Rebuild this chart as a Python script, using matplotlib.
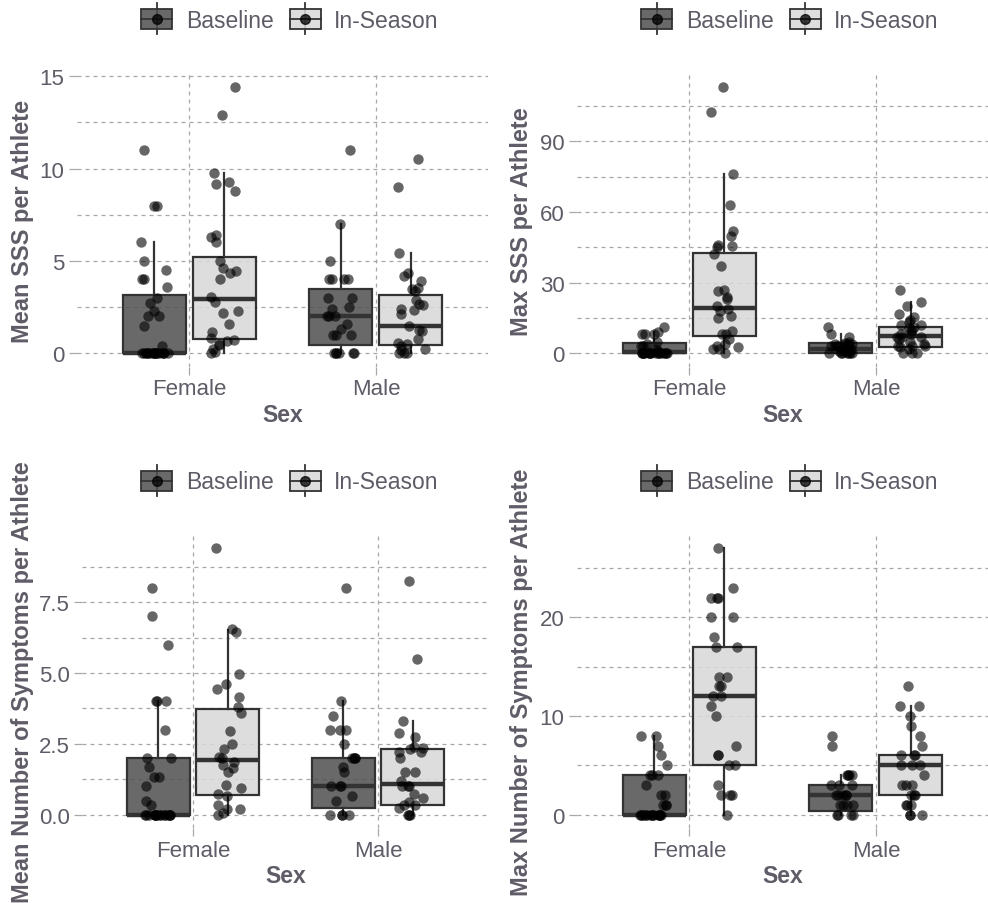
import numpy as np
import matplotlib
matplotlib.use("Agg")
import matplotlib.pyplot as plt
from matplotlib.patches import Patch, Rectangle
from matplotlib.lines import Line2D
from matplotlib.legend_handler import HandlerBase

plt.rcParams['font.family'] = ['Liberation Sans', 'DejaVu Sans']

# ---------------- data ----------------
sexes = ["Female", "Male"]
timepoints = ["Baseline", "In-Season"]

# Panel A: Mean SSS per athlete
mean_sss_f_base = [11, 8, 8, 6, 5, 4.5, 4, 4, 3.6, 3, 2.7, 2.3, 2, 2, 1.5, 0.4] + [0] * 17
mean_sss_f_in = [14.4, 12.9, 9.75, 9.3, 9.15, 8.8, 6.4, 6.3, 6.0, 5.0, 4.6, 4.45, 4.35, 4.0,
                 3.05, 2.8, 2.3, 2.2, 1.6, 1.15, 0.85, 0.7, 0.65, 0.5, 0.45, 0.25, 0.05, 0]
mean_sss_m_base = [11, 7, 5, 4, 4, 4, 4, 3, 3, 2.5, 2.4, 2, 2, 2, 1.6, 1.3, 1, 1, 1, 0, 0, 0, 0, 0, 0]
mean_sss_m_in = [10.5, 9, 5.45, 4.35, 4.2, 3.9, 3.55, 3.5, 3.35, 2.9, 2.65, 2.6, 2.4, 2.35, 2.15,
                 1.5, 1.25, 1.2, 0.8, 0.55, 0.5, 0.4, 0.25, 0.2, 0, 0, 0]
# box stats per group: [F-Base, F-In, M-Base, M-In]
mean_sss_q1 = [0, 0.8, 0.47, 0.47]
mean_sss_med = [0, 2.95, 2.0, 1.5]
mean_sss_q3 = [3.15, 5.2, 3.48, 3.17]
mean_sss_wlo = [0, 0, 0, 0]
mean_sss_whi = [6, 9.75, 7, 5.45]

# Panel B: Max SSS per athlete
max_sss_f_base = [11, 9, 8, 8, 8, 5, 4, 3, 3, 2, 1] + [0] * 17
max_sss_f_in = [113, 102.5, 76, 63, 52, 50, 46, 45.5, 45, 42, 37, 27, 26.5, 24, 23, 20, 19, 18,
                16, 15, 9.5, 8, 8, 6, 4, 3, 2.5, 2, 2, 0]
max_sss_m_base = [11, 8, 7, 5, 4.5, 4, 4, 4, 4, 3, 3, 3, 3, 2, 2, 2, 2, 1, 1, 1, 0, 0, 0, 0, 0, 0, 0]
max_sss_m_in = [27, 22, 20.3, 16.7, 15.3, 14, 13.2, 12.2, 12, 11, 10.6, 10, 9.6, 8.2, 8, 7.1, 7,
                6.8, 6, 5, 4, 3.3, 3, 3, 2.5, 1.8, 0, 0, 0]
max_sss_q1 = [0, 7.5, 0.2, 2.7]
max_sss_med = [0.5, 19.3, 2.0, 7.2]
max_sss_q3 = [4.25, 42.8, 4.25, 11.3]
max_sss_wlo = [0, 0, 0, 0]
max_sss_whi = [9, 76, 8, 22]

# Panel C: Mean number of symptoms per athlete
mean_sym_f_base = [8, 7, 6, 4, 4, 4, 3, 2, 2, 1.67, 1.33, 1.33, 1, 0.5, 0.33] + [0] * 16
mean_sym_f_in = [9.4, 6.55, 6.45, 4.95, 4.6, 4.45, 4.15, 3.8, 3.6, 2.95, 2.5, 2.33, 2.05, 2.0,
                 1.85, 1.75, 1.65, 1.5, 1.05, 0.95, 0.72, 0.65, 0.35, 0.2, 0.2, 0.05, 0]
mean_sym_m_base = [8, 4, 3.5, 3, 3, 3, 2.5, 2, 2, 2, 2, 1.67, 1.5, 1, 1, 1, 0.67, 0.5, 0, 0, 0, 0]
mean_sym_m_in = [8.25, 5.5, 3.3, 2.9, 2.75, 2.4, 2.35, 2.33, 2.2, 2.2, 2.0, 1.5, 1.5, 1.2, 1.0,
                 1.0, 1.0, 0.72, 0.58, 0.45, 0.35, 0.33, 0.25, 0, 0, 0]
mean_sym_q1 = [0, 0.68, 0.22, 0.34]
mean_sym_med = [0, 1.94, 1.0, 1.08]
mean_sym_q3 = [2.0, 3.73, 2.0, 2.32]
mean_sym_wlo = [0, 0, 0, 0]
mean_sym_whi = [4, 6.5, 4, 3.3]

# Panel D: Max number of symptoms per athlete
max_sym_f_base = [8, 8, 7, 6, 5, 4, 4, 4, 3, 2, 2, 1, 1, 1] + [0] * 15
max_sym_f_in = [27, 23, 22, 22, 22, 20, 20, 18, 17, 17, 14, 14, 13, 13, 12, 12, 11, 10, 7, 6, 6,
                5, 5, 3, 2, 2, 2, 0]
max_sym_m_base = [8, 7, 4, 4, 4, 4, 3, 3, 3, 2, 2, 2, 2, 2, 1, 1, 1, 1, 0, 0, 0, 0]
max_sym_m_in = [13, 11, 11, 10, 9, 8, 7, 6, 6, 6, 5, 5, 5, 4, 3, 3, 3, 2, 2, 2, 1, 1, 1, 0, 0, 0]
max_sym_q1 = [0, 5, 0.4, 2]
max_sym_med = [0, 12, 2, 5]
max_sym_q3 = [4, 17, 3, 6]
max_sym_wlo = [0, 0, 0, 0]
max_sym_whi = [8, 27, 4, 11]

ylabels = ["Mean SSS per Athlete", "Max SSS per Athlete",
           "Mean Number of Symptoms per Athlete", "Max Number of Symptoms per Athlete"]

# ---------------- style ----------------
TEXT = '#5f5b67'
GRID = '#a8a8a8'
EDGE = '#333333'
FILLS = ['#4f4f4f', '#d8d8d8']
BOX_ALPHA = 0.85

fig = plt.figure(figsize=(9.88, 9.04), dpi=100)
W, H = 988, 904


def ax_at(l, t, r, b):
    return fig.add_axes([l / W, 1 - b / H, (r - l) / W, (b - t) / H])


rng = np.random.default_rng(11)


class BoxKeyHandler(HandlerBase):
    def create_artists(self, legend, orig_handle, xdescent, ydescent, width, height,
                       fontsize, trans):
        x0, y0 = -xdescent, -ydescent
        cx, cy = x0 + width / 2, y0 + height / 2
        ext = height * 0.28
        vline = Line2D([cx, cx], [y0 - ext, y0 + height + ext], color=EDGE, lw=1.3,
                       transform=trans)
        rect = Rectangle((x0, y0), width, height, facecolor=orig_handle.get_facecolor(),
                         edgecolor=EDGE, lw=1.3, transform=trans)
        hline = Line2D([x0, x0 + width], [cy, cy], color=EDGE, lw=1.3, transform=trans)
        dot = Line2D([cx], [cy], marker='o', ms=7, color='black', alpha=0.75,
                     linestyle='None', transform=trans)
        return [vline, rect, hline, dot]


def draw_panel(ax, groups, q1, med, q3, wlo, whi, ylabel, major, minor, ticklabels,
               label_x):
    pos = [1 - 0.1875, 1 + 0.1875, 2 - 0.1875, 2 + 0.1875]
    stats = []
    for i in range(4):
        stats.append(dict(med=med[i], q1=q1[i], q3=q3[i], whislo=wlo[i], whishi=whi[i],
                          fliers=[]))
    bp = ax.bxp(stats, positions=pos, widths=0.3375, patch_artist=True, showfliers=False,
                showcaps=False,
                boxprops=dict(edgecolor=EDGE, linewidth=1.6),
                whiskerprops=dict(color=EDGE, linewidth=1.6),
                medianprops=dict(color=EDGE, linewidth=3.2, solid_capstyle='butt'),
                manage_ticks=False, zorder=2)
    for i, p in enumerate(bp['boxes']):
        fc = matplotlib.colors.to_rgba(FILLS[i % 2], BOX_ALPHA)
        p.set_facecolor(fc)
    for i, vals in enumerate(groups):
        vals = np.asarray(vals, dtype=float)
        xs = pos[i] + rng.uniform(-0.075, 0.075, len(vals))
        ax.scatter(xs, vals, s=56, color='black', alpha=0.6, linewidths=0, zorder=3)

    allv = np.concatenate([np.asarray(g, float) for g in groups])
    lo, hi = allv.min(), allv.max()
    pad = 0.05 * (hi - lo)
    ax.set_ylim(lo - pad, hi + pad)
    ax.set_xlim(0.4, 2.6)
    ax.set_xticks([1, 2])
    ax.set_xticklabels(sexes)
    ax.set_yticks(major)
    ax.set_yticklabels(ticklabels)
    ax.set_yticks(minor, minor=True)
    ax.set_axisbelow(True)
    ax.grid(True, axis='y', which='both', color=GRID, linestyle=(0, (3.2, 3.2)), lw=0.9)
    ax.grid(True, axis='x', which='major', color=GRID, linestyle=(0, (3.2, 3.2)), lw=0.9)
    for s in ax.spines.values():
        s.set_visible(False)
    ax.tick_params(axis='both', which='major', length=6, width=0.9, color=GRID,
                   labelcolor=TEXT, labelsize=16, pad=3)
    ax.tick_params(axis='y', which='minor', length=0)
    ax.tick_params(axis='x', pad=2.5)
    ax.set_xlabel("Sex", fontsize=16.5, fontweight='bold', color=TEXT, labelpad=2.5)
    ax.set_ylabel(ylabel, fontsize=17, fontweight='bold', color=TEXT)
    ax.yaxis.set_label_coords(label_x, 0.5)


# axes placement (pixel edges: left, top, right, bottom)
ax1 = ax_at(77, 75, 488, 367.6)
ax2 = ax_at(577, 75, 988, 367.6)
ax3 = ax_at(82, 536, 489, 829)
ax4 = ax_at(577, 536, 988, 829)

draw_panel(ax1, [mean_sss_f_base, mean_sss_f_in, mean_sss_m_base, mean_sss_m_in],
           mean_sss_q1, mean_sss_med, mean_sss_q3, mean_sss_wlo, mean_sss_whi, ylabels[0],
           [0, 5, 10, 15], [2.5, 7.5, 12.5], ["0", "5", "10", "15"], -0.105)
draw_panel(ax2, [max_sss_f_base, max_sss_f_in, max_sss_m_base, max_sss_m_in],
           max_sss_q1, max_sss_med, max_sss_q3, max_sss_wlo, max_sss_whi, ylabels[1],
           [0, 30, 60, 90], [15, 45, 75, 105], ["0", "30", "60", "90"], -0.108)
draw_panel(ax3, [mean_sym_f_base, mean_sym_f_in, mean_sym_m_base, mean_sym_m_in],
           mean_sym_q1, mean_sym_med, mean_sym_q3, mean_sym_wlo, mean_sym_whi, ylabels[2],
           [0, 2.5, 5, 7.5], [1.25, 3.75, 6.25, 8.75], ["0.0", "2.5", "5.0", "7.5"], -0.117)
draw_panel(ax4, [max_sym_f_base, max_sym_f_in, max_sym_m_base, max_sym_m_in],
           max_sym_q1, max_sym_med, max_sym_q3, max_sym_wlo, max_sym_whi, ylabels[3],
           [0, 10, 20], [5, 15, 25], ["0", "10", "20"], -0.108)

# legends
handles = [Patch(facecolor=matplotlib.colors.to_rgba(FILLS[0], BOX_ALPHA)),
           Patch(facecolor=matplotlib.colors.to_rgba(FILLS[1], BOX_ALPHA))]
for cx, cy in [(290, 21), (790, 21), (290, 483), (790, 483)]:
    fig.legend(handles, timepoints, loc='center', bbox_to_anchor=(cx / W, 1 - cy / H),
               ncol=2, frameon=False, fontsize=16.5, labelcolor=TEXT,
               handler_map={Patch: BoxKeyHandler()}, handlelength=1.35, handleheight=0.95,
               handletextpad=0.6, columnspacing=0.7)

fig.savefig("out.png", dpi=100)
